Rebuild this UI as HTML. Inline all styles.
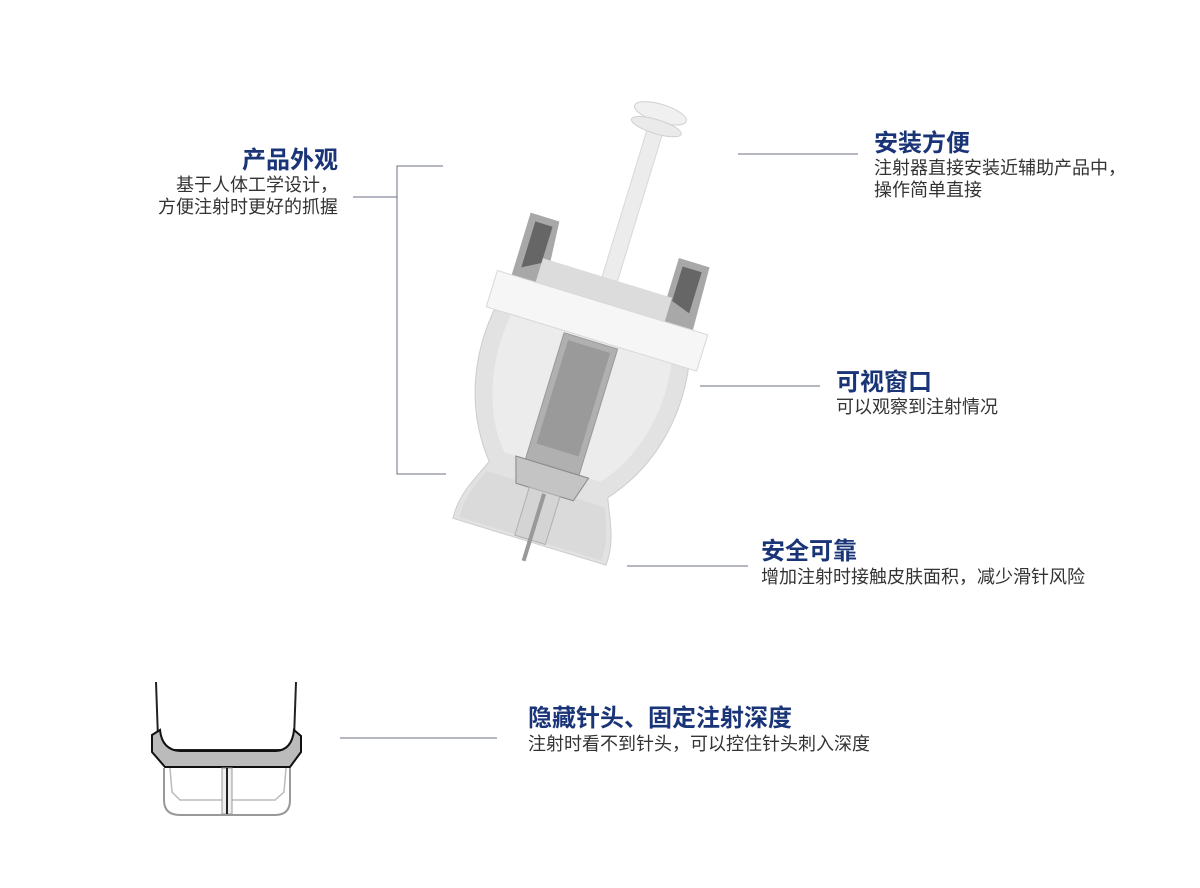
<!DOCTYPE html>
<html><head><meta charset="utf-8">
<style>
html,body{margin:0;padding:0;background:#fff;}
body{width:1200px;height:888px;position:relative;overflow:hidden;font-family:"Liberation Sans","Noto Sans CJK SC",sans-serif;}
.t{position:absolute;color:#1a3478;font-weight:bold;font-size:24px;line-height:26px;white-space:nowrap;}
.d{position:absolute;color:#333;font-size:18px;line-height:21px;white-space:nowrap;}
.r{text-align:right;right:862px;}
</style></head><body>
<svg width="1200" height="888" style="position:absolute;left:0;top:0">
<g stroke="#6b7085" stroke-width="1" fill="none">
<path d="M443 166 H397 V474 H446"/>
<path d="M353 197 H397"/>
<path d="M738 154 H858"/>
<path d="M700 386 H820"/>
<path d="M627 566 H748"/>
<path d="M340 738 H497"/>
</g>
<g transform="translate(585,360) rotate(17)">
<rect x="-8" y="-240" width="16" height="160" fill="#ececec" stroke="#d8d8d8"/>
<ellipse cx="0" cy="-258" rx="27" ry="9" fill="#f0f0f0" stroke="#d0d0d0"/>
<ellipse cx="0" cy="-244" rx="26" ry="7" fill="#eaeaea" stroke="#d0d0d0"/>
<path d="M-95 -125 L-65 -125 L-60 -60 L-95 -45 Z" fill="#a8a8a8"/>
<path d="M60 -125 L92 -125 L95 -45 L60 -60 Z" fill="#a8a8a8"/>
<path d="M-88 -118 L-70 -118 L-70 -80 L-88 -70 Z" fill="#666"/>
<path d="M66 -118 L86 -118 L86 -75 L66 -82 Z" fill="#666"/>
<rect x="-70" y="-85" width="135" height="35" fill="#dcdcdc"/>
<path d="M-98 -40 C-112 20 -100 80 -62 125 C-70 145 -82 165 -80 190 L80 190 C82 165 70 145 62 125 C100 80 112 20 98 -40 Z" fill="#e2e2e2" stroke="#cdcdcd"/>
<path d="M-82 -30 C-94 20 -80 80 -50 112 L50 112 C80 80 94 20 82 -30 Z" fill="#ececec"/>
<path d="M-62 135 C-70 155 -76 170 -74 187 L74 187 C76 170 70 155 62 135 Z" fill="#dadada"/>
<path d="M-110 -60 L110 -60 L110 -22 L-110 -22 Z" fill="#f6f6f6" stroke="#d8d8d8"/>
<rect x="-28" y="-20" width="56" height="135" fill="#b0b0b0" stroke="#999"/>
<rect x="-22" y="-14" width="44" height="108" fill="#9a9a9a"/>
<path d="M-38 112 L38 112 L30 138 L-30 138 Z" fill="#c4c4c4" stroke="#888"/>
<rect x="-16" y="138" width="32" height="50" fill="#d4d4d4" stroke="#b0b0b0"/>
<rect x="-2" y="140" width="4" height="70" fill="#999"/>
</g>
<g fill="none">
<path d="M164 768 L164 800 Q164 815 180 815 L275 815 Q290 815 290 800 L290 768" stroke="#999" stroke-width="2"/>
<path d="M170 768 L172 792 L180 800 L275 800 L284 792 L286 768" stroke="#bbb" stroke-width="1.5"/>
<path d="M156 682 L158 738 Q160 750 175 750 L280 750 Q293 750 294 738 L296 682" stroke="#222" stroke-width="2"/>
</g>
<path d="M152 735 L160 730 Q162 750 180 751 L276 751 Q292 750 294 730 L301 736 L301 752 L290 767 L165 767 L152 752 Z" fill="#bbbbbb" stroke="#111" stroke-width="2"/>
<rect x="222" y="768" width="10" height="46" fill="#eee" stroke="#999"/>
<line x1="227" y1="768" x2="227" y2="814" stroke="#222" stroke-width="2"/>
</svg>

<div class="t r" style="top:148px;">产品外观</div>
<div class="d r" style="top:175px;">基于人体工学设计，</div>
<div class="d r" style="top:197px;">方便注射时更好的抓握</div>

<div class="t" style="left:874px;top:131px;">安装方便</div>
<div class="d" style="left:874px;top:158px;">注射器直接安装近辅助产品中，</div>
<div class="d" style="left:874px;top:180px;">操作简单直接</div>

<div class="t" style="left:836px;top:370px;">可视窗口</div>
<div class="d" style="left:836px;top:397px;">可以观察到注射情况</div>

<div class="t" style="left:761px;top:539px;">安全可靠</div>
<div class="d" style="left:761px;top:567px;">增加注射时接触皮肤面积，减少滑针风险</div>

<div class="t" style="left:528px;top:706px;">隐藏针头、固定注射深度</div>
<div class="d" style="left:528px;top:734px;">注射时看不到针头，可以控住针头刺入深度</div>
</body></html>
